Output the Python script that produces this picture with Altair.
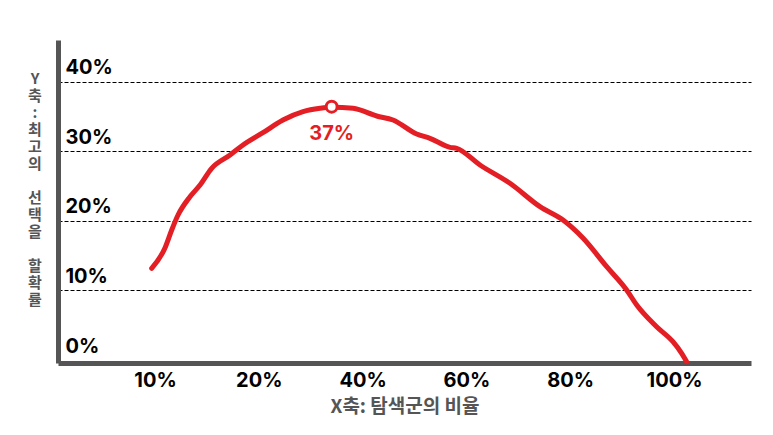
import altair as alt
import pandas as pd

# x positions are in "tick units": 0 -> "10%", 1 -> "20%", 2 -> "40%", ...
x_tick_labels = ["10%", "20%", "40%", "60%", "80%", "100%"]
y_ticks = [0, 10, 20, 30, 40]

curve_x = [-0.032, 0.096, 0.161, 0.222, 0.337, 0.434, 0.546, 0.723, 0.848, 1.040,
           1.233, 1.426, 1.590, 1.702, 1.908, 2.136, 2.293, 2.521, 2.649, 2.842,
           2.907, 3.131, 3.420, 3.709, 3.931, 4.123, 4.352, 4.544, 4.641, 4.833,
           4.990, 5.074, 5.122]
curve_y = [13.18, 16.09, 18.68, 20.83, 23.46, 25.14, 27.54, 29.45, 30.89, 32.66,
           34.48, 35.68, 36.16, 36.31, 36.16, 35.06, 34.48, 32.47, 31.85, 30.56,
           30.42, 28.02, 25.39, 22.03, 20.11, 17.53, 13.41, 10.06, 7.90, 4.78,
           2.63, 0.96, -0.24]

peak_x = [1.702]
peak_y = [36.4]
peak_label = ["37%"]

x_title = "X축: 탐색군의 비율"
# vertical y title, one word group per entry (stacked characters)
y_title_words = [["Y", "축", ":", "최", "고", "의"], ["선", "택", "을"], ["할", "확", "률"]]

RED = "#e31e24"
GRAY = "#555555"
FONT = "Inter"
KFONT = "Noto Sans CJK KR"
LH = 17

curve = pd.DataFrame({"x": curve_x, "y": curve_y})
peak = pd.DataFrame({"x": peak_x, "y": peak_y, "label": peak_label})

label_expr = "[" + ",".join(f"'{t}'" for t in x_tick_labels) + "][datum.value]"

x_scale = alt.Scale(domain=[-0.9345, 5.742], nice=False, zero=False)
y_scale = alt.Scale(domain=[-0.43, 45.98], nice=False, zero=False)

x_axis = alt.Axis(
    values=list(range(len(x_tick_labels))),
    labelExpr=label_expr,
    ticks=False, tickSize=0, grid=False,
    domainColor=GRAY, domainWidth=5,
    labelFont=FONT, labelFontSize=20, labelFontWeight="bold", labelColor="black",
    labelPadding=7, labelFlush=False, labelOverlap=False,
    title=x_title, titleFont=KFONT, titleFontSize=19, titleFontWeight="bold",
    titleColor=GRAY, titlePadding=7,
)

y_axis = alt.Axis(
    values=y_ticks,
    labelExpr="datum.value + '%'",
    ticks=False, tickSize=0,
    grid=True, gridColor="black", gridDash=[4, 2], gridWidth=1,
    gridOpacity={"condition": {"test": "datum.value === 0", "value": 0}, "value": 1},
    domainColor=GRAY, domainWidth=5,
    labelFont=FONT, labelFontSize=20, labelFontWeight="bold", labelColor="black",
    labelAlign="left", labelBaseline="middle", labelPadding=-7, labelOffset=-14,
    labelFlush=False, labelOverlap=False, labelBound=False,
    title=None,
)

line = alt.Chart(curve).mark_line(
    color=RED, strokeWidth=5, interpolate="monotone", strokeCap="round", strokeJoin="round"
).encode(
    x=alt.X("x:Q", scale=x_scale, axis=x_axis),
    y=alt.Y("y:Q", scale=y_scale, axis=y_axis),
)

marker = alt.Chart(peak).mark_point(
    shape="circle", filled=True, fill="white", stroke=RED, strokeWidth=3, size=120, opacity=1
).encode(x="x:Q", y="y:Q")

label = alt.Chart(peak).mark_text(
    color=RED, font=FONT, fontSize=20, fontWeight="bold", dy=27
).encode(x="x:Q", y="y:Q", text="label:N")

layers = [line, marker, label]
start = 0
for words in y_title_words:
    layers.append(
        alt.Chart(pd.DataFrame({"k": [0]})).mark_text(
            font=KFONT, fontSize=15, fontWeight="bold", color=GRAY,
            align="center", baseline="top", lineHeight=LH,
        ).encode(x=alt.value(-23), y=alt.value(32 + start * LH), text=alt.value(words))
    )
    start += len(words) + 1

chart = alt.layer(*layers).properties(
    width=693, height=323,
    autosize=alt.AutoSizeParams(type="none"),
    padding={"left": 50, "top": 32, "right": 14, "bottom": 70},
).configure_view(stroke=None)

chart.save("out.html", embed_options={"renderer": "svg", "actions": False})
